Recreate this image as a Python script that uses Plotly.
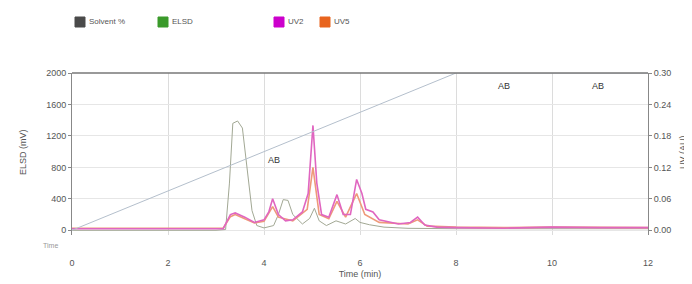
import plotly.graph_objects as go

# ---------------- data ----------------
solvent_t = [0, 8, 12]
solvent_pct = [0, 100, 100]

elsd_t = [0, 3.0, 3.2, 3.28, 3.35, 3.45, 3.55, 3.65, 3.75, 3.85, 4.0, 4.2, 4.3, 4.4, 4.5, 4.6, 4.8, 4.95, 5.05, 5.15, 5.3, 5.5, 5.7, 5.9, 6.0, 6.2, 6.5, 7.0, 7.5, 8.0, 9.0, 10.0, 11.0, 12.0]
elsd_v = [0, 0, 10, 600, 1360, 1390, 1300, 800, 250, 60, 30, 60, 200, 390, 380, 200, 80, 150, 280, 120, 60, 120, 80, 150, 100, 70, 40, 25, 20, 20, 20, 20, 20, 20]

uv2_t = [0, 3.15, 3.3, 3.4, 3.6, 3.8, 4.0, 4.1, 4.18, 4.3, 4.45, 4.6, 4.8, 4.92, 5.02, 5.1, 5.2, 5.35, 5.52, 5.65, 5.8, 5.93, 6.04, 6.12, 6.27, 6.4, 6.8, 7.05, 7.2, 7.35, 7.6, 8.0, 9.0, 10.0, 11.0, 12.0]
uv2_v = [0.003, 0.003, 0.030, 0.033, 0.025, 0.015, 0.020, 0.035, 0.060, 0.030, 0.018, 0.020, 0.035, 0.070, 0.200, 0.090, 0.030, 0.025, 0.068, 0.030, 0.030, 0.097, 0.070, 0.040, 0.035, 0.020, 0.012, 0.015, 0.025, 0.010, 0.006, 0.005, 0.004, 0.006, 0.005, 0.005]

uv5_t = [0, 3.15, 3.3, 3.4, 3.6, 3.8, 4.0, 4.18, 4.3, 4.6, 4.9, 5.02, 5.15, 5.35, 5.52, 5.7, 5.93, 6.1, 6.4, 7.0, 7.2, 7.4, 8.0, 9.0, 10.0, 11.0, 12.0]
uv5_v = [0.004, 0.004, 0.026, 0.030, 0.022, 0.014, 0.017, 0.045, 0.025, 0.018, 0.040, 0.120, 0.030, 0.022, 0.055, 0.025, 0.070, 0.030, 0.015, 0.012, 0.020, 0.008, 0.006, 0.005, 0.006, 0.005, 0.005]

x_ticks = [0, 2, 4, 6, 8, 10, 12]
elsd_ticks = [0, 400, 800, 1200, 1600, 2000]
uv_ticks = [0.00, 0.06, 0.12, 0.18, 0.24, 0.30]
uv_tick_text = ["0.00", "0.06", "0.12", "0.18", "0.24", "0.30"]

legend_names = ["Solvent %", "ELSD", "UV2", "UV5"]
legend_colors = ["#4a4a4a", "#3a9a2a", "#cc00cc", "#e8641e"]

# ---------------- figure ----------------
fig = go.Figure()

fig.add_trace(go.Scatter(x=solvent_t, y=solvent_pct, yaxis="y3", mode="lines",
                         line=dict(color="#b4bfcc", width=1), name="Solvent %"))
fig.add_trace(go.Scatter(x=elsd_t, y=elsd_v, yaxis="y", mode="lines",
                         line=dict(color="#a2a894", width=1), name="ELSD"))
fig.add_trace(go.Scatter(x=uv5_t, y=uv5_v, yaxis="y2", mode="lines",
                         line=dict(color="#ee9a7a", width=1.6), name="UV5"))
fig.add_trace(go.Scatter(x=uv2_t, y=uv2_v, yaxis="y2", mode="lines",
                         line=dict(color="#e066c0", width=1.6), name="UV2"))

tick_font = dict(family="Liberation Sans, Arial, sans-serif", size=9, color="#555555")

# page body has an 8px margin: figure is drawn from screen (8, 8)
OFF = 8
SL, SR, ST, SB = 72, 648, 73, 235   # plot area in screen pixels
W, H = 692 - OFF, 284 - OFF
L, T = SL - OFF, ST - OFF
R, B = 692 - SR, 284 - SB
PH = SB - ST
PW = SR - SL


def py(p):
    return (SB - p) / PH


def px_(p):
    return (p - SL) / PW


fig.update_layout(
    width=W, height=H,
    margin=dict(l=L, r=R, t=T, b=B, autoexpand=False),
    paper_bgcolor="white", plot_bgcolor="white",
    showlegend=False,
    xaxis=dict(range=[0, 12], tickvals=x_ticks, ticks="", showgrid=True,
               gridcolor="#dcdcdc", gridwidth=1, zeroline=False, showline=False,
               tickfont=tick_font, ticklabelstandoff=21, automargin=False,
               title=dict(text="Time (min)", font=tick_font, standoff=3)),
    yaxis=dict(range=[-60, 2000], tickvals=elsd_ticks, showgrid=True,
               gridcolor="#e6e6e6", zeroline=False, showline=True, automargin=False,
               linecolor="#888888", linewidth=1, ticks="outside", ticklen=3,
               tickcolor="#888888", tickfont=tick_font),
    yaxis2=dict(range=[-0.009, 0.30], tickvals=uv_ticks, ticktext=uv_tick_text,
                overlaying="y", side="right", showgrid=False, zeroline=False,
                showline=True, linecolor="#888888", linewidth=1, ticks="outside",
                ticklen=3, tickcolor="#888888", tickfont=tick_font, automargin=False),
    yaxis3=dict(range=[-3, 100], overlaying="y", visible=False),
)

# top frame line
fig.add_shape(type="line", xref="paper", yref="paper", x0=0, x1=1, y0=1, y1=1,
              line=dict(color="#777777", width=1.5))

# axis titles
fig.add_annotation(text="ELSD (mV)", xref="paper", yref="paper", x=px_(23), y=py(152),
                   textangle=-90, showarrow=False, font=tick_font, xanchor="center")
fig.add_annotation(text="UV (AU)", xref="paper", yref="paper", x=px_(683), y=py(152),
                   textangle=-90, showarrow=False, font=tick_font, xanchor="center")
fig.add_annotation(text="Time", xref="paper", yref="paper", x=px_(60), y=py(240),
                   xanchor="right", yanchor="top", showarrow=False,
                   font=dict(family="Liberation Sans, Arial", size=7, color="#999999"))

# AB labels
for ax_, ay_ in [(4.2, 900), (9.0, 1830), (10.95, 1830)]:
    fig.add_annotation(text="AB", x=ax_, y=ay_, xref="x", yref="y", showarrow=False,
                       font=dict(family="Liberation Sans, Arial", size=9, color="#333333"))

# custom legend
leg_x = [75, 158, 274, 320]
for name, col, p in zip(legend_names, legend_colors, leg_x):
    fig.add_shape(type="rect", xref="paper", yref="paper", x0=px_(p), x1=px_(p + 10),
                  y0=py(27), y1=py(17), fillcolor=col, line=dict(color=col, width=1))
    fig.add_annotation(text=name, xref="paper", yref="paper", x=px_(p + 12),
                       y=py(22), xanchor="left", yanchor="middle", showarrow=False,
                       font=dict(family="Liberation Sans, Arial", size=8, color="#555555"))

fig.write_html("out.html")
